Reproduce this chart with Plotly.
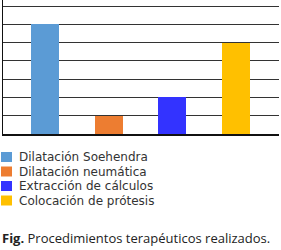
import plotly.graph_objects as go

categories = ["Dilatación Soehendra", "Dilatación neumática", "Extracción de cálculos", "Colocación de prótesis"]
values = [6, 1, 2, 5]
colors = ["#5B9BD5", "#ED7D31", "#3333FF", "#FFC000"]
caption_bold = "Fig."
caption_text = "Procedimientos terapéuticos realizados."

W, H = 281, 250
L, R, T, B = 3, 2, 0, 116
PW, PH = W - L - R, H - T - B


def px(x):
    return (x - L) / PW


def py(y):
    return (H - B - y) / PH


fig = go.Figure()
fig.add_trace(go.Bar(
    x=categories, y=values, marker=dict(color=colors, line=dict(width=0)),
    width=0.44, showlegend=False, hoverinfo="skip",
))

shapes = []
annotations = []
row_y = [157, 171.5, 186, 200.5]
for i, (cat, col) in enumerate(zip(categories, colors)):
    yc = row_y[i]
    shapes.append(dict(type="rect", xref="paper", yref="paper",
                       x0=px(1), x1=px(12), y0=py(yc + 5), y1=py(yc - 5),
                       fillcolor=col, line=dict(width=0)))
    annotations.append(dict(xref="paper", yref="paper", x=px(17), y=py(yc),
                            xanchor="left", yanchor="middle", showarrow=False,
                            text=cat, font=dict(family="DejaVu Sans", size=12, color="#333333")))

annotations.append(dict(xref="paper", yref="paper", x=px(0), y=py(237.5),
                        xanchor="left", yanchor="middle", showarrow=False,
                        text=f"<b>{caption_bold}</b> {caption_text}",
                        font=dict(family="Open Sans", size=13, color="#222222")))

fig.update_layout(
    width=W, height=H,
    margin=dict(l=L, r=R, t=T, b=B, pad=0),
    paper_bgcolor="white", plot_bgcolor="white",
    xaxis=dict(range=[-0.66, 3.675], showticklabels=False, ticks="",
               showgrid=False, showline=True, linecolor="#111111", linewidth=2,
               zeroline=False, fixedrange=True),
    yaxis=dict(range=[0, 7.33], dtick=1, tick0=0, showticklabels=False, ticks="",
               showgrid=True, gridcolor="#333333", gridwidth=1,
               showline=True, linecolor="#111111", linewidth=1,
               zeroline=False, fixedrange=True),
    shapes=shapes, annotations=annotations,
    bargap=0,
)

fig.write_html("out.html", config={"displayModeBar": False})
